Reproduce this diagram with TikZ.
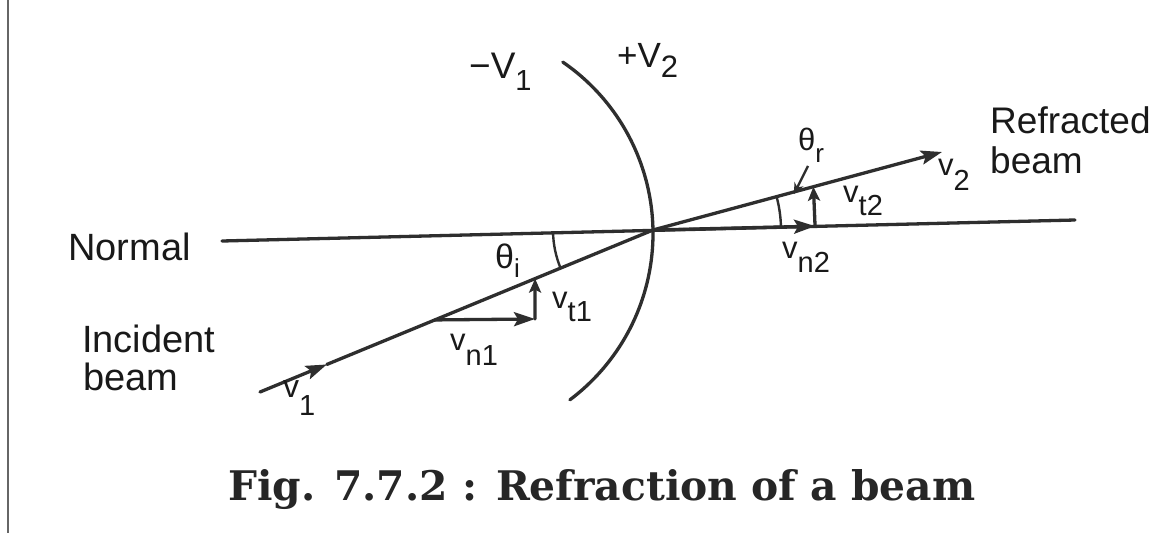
\documentclass[tikz,border=0pt]{standalone}
\usepackage{fontspec}
\setmainfont{Liberation Sans}
\newfontfamily\capfont{DejaVu Serif}
\usetikzlibrary{arrows.meta,calc}
\definecolor{ink}{HTML}{2E2E2E}
\newcommand\fs[1]{\fontsize{#1}{#1}\selectfont}
% main text, main size, subscript, sub size, drop
\newcommand\subl[5]{{\fs{#2}#1}\raisebox{-#5pt}{\fs{#4}#3}}
\begin{document}
\begin{tikzpicture}[x=1pt,y=1pt,
  ln/.style={line width=3.3pt, draw=ink, line cap=round},
  bighead/.style={-{Stealth[length=21pt,width=14pt,inset=4pt]}},
  smallhead/.style={-{Stealth[length=14pt,width=12pt,inset=3pt]}},
  lab/.style={anchor=base west, inner sep=0pt, text=black!90},
  thin/.style={line width=2.4pt, draw=ink}]
\useasboundingbox (0,0) rectangle (1155,-533);
\fill[white] (0,0) rectangle (1155,-533);
% scanned page edge
\draw[line width=2.2pt, black!60] (8,0) -- (8,-533);

% key points
\coordinate (O) at (653,-230);
\coordinate (NL) at (222,-241);
\coordinate (NR) at (1075,-220);
\coordinate (IS) at (260,-392);
\coordinate (R2) at (942,-152);
\coordinate (A1) at ($(IS)!0.17!(O)$);
\coordinate (B1) at ($(IS)!0.445!(O)$);
\coordinate (T1) at ($(IS)!0.70!(O)$);
\coordinate (C1) at (535,-319);
\coordinate (N2) at ($(O)!0.384!(NR)$);
\coordinate (T2) at ($(O)!0.555!(R2)$);
\coordinate (P1) at (808,-166);
\coordinate (P2) at (794,-194);

% interface between regions
\draw[ln] (445,-233.5) ++(55.5:208) arc[start angle=55.5, end angle=-53.1, radius=208];

% normal
\draw[ln] (NL) -- (NR);
% incident beam
\draw[ln, bighead] (IS) -- (A1);
\draw[ln] (A1) -- (O);
% refracted beam
\draw[ln, bighead] (O) -- (R2);
% normal component on the right
\draw[ln, bighead] (O) -- (N2);
% components of v1
\draw[ln, bighead] (B1) -- (C1);
\draw[ln, smallhead] (C1) -- (T1);
% tangential component v_t2
\draw[ln, smallhead] (N2) -- (T2);

% angle arcs
\draw[thin] (O) ++(181.5:100) arc[start angle=181.5, end angle=202.4, radius=100];
\draw[thin] (O) ++(1.4:128) arc[start angle=1.4, end angle=15.1, radius=128];
\draw[thin, -{Stealth[length=11pt,width=10pt]}] (P1) -- (P2);

% labels
\node[lab] (lnormal) at (68,-260) {\fs{38}Normal};
\node[lab] (linc) at (82,-352) {\fs{38}Incident};
\node[lab] (lincb) at (83,-390) {\fs{38}beam};
\node[lab] (lref) at (990,-133) {\fs{37}Refracted};
\node[lab] (lrefb) at (990,-173) {\fs{37}beam};
\node[lab] (lv1m) at (469,-78) {\subl{−V}{37}{1}{29}{12}};
\node[lab] (lv2p) at (617,-67) {\subl{+V}{35}{2}{31}{10}};
\node[lab] (lthi) at (495,-268) {\subl{θ}{34}{i}{26}{9}};
\node[lab] (lthr) at (798,-150) {\subl{θ}{31}{r}{26}{12}};
\node[lab] (lvt1) at (552,-308) {\subl{v}{31}{t1}{29}{13}};
\node[lab] (lvn1) at (450,-350) {\subl{v}{31}{n1}{29}{15}};
\node[lab] (lvt2) at (843,-202) {\subl{v}{31}{t2}{29}{13}};
\node[lab] (lvn2) at (782,-258) {\subl{v}{31}{n2}{29}{14}};
\node[lab] (lvone) at (283,-397) {\subl{v}{32}{1}{29}{18}};
\node[lab] (lvtwo) at (938,-175) {\subl{v}{31}{2}{29}{15}};

% caption
\node[anchor=base west, inner sep=0pt, text=black!85] (cap) at (228,-500)
  {\resizebox{747pt}{!}{\capfont\bfseries Fig. 7.7.2 : Refraction of a beam}};
\end{tikzpicture}
\end{document}
